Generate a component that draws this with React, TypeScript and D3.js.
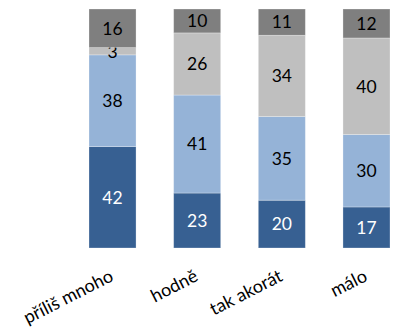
import React from "react";
import * as d3 from "d3";

const categories = ["příliš mnoho", "hodně", "tak akorát", "málo"];
const seriesA = [42, 23, 20, 17];
const seriesB = [38, 41, 35, 30];
const seriesC = [3, 26, 34, 40];
const seriesD = [16, 10, 11, 12];
const colors = ["#376092", "#95B3D7", "#BFBFBF", "#7F7F7F"];
const textColors = ["#ffffff", "#000000", "#000000", "#000000"];

export default function App() {
  const W = 401, H = 327;
  const series = [seriesA, seriesB, seriesC, seriesD];
  const rows = categories.map((c, i) => {
    const o: any = { cat: c };
    series.forEach((s, k) => (o["s" + k] = s[i]));
    return o;
  });
  const keys = ["s0", "s1", "s2", "s3"];
  const stacked = d3.stack().keys(keys).offset(d3.stackOffsetExpand)(rows);
  const xs = d3.scaleBand().domain(categories).range([89, 390]).paddingInner(0.8 / 1.8).paddingOuter(0);
  const y = d3.scaleLinear().domain([0, 1]).range([248, 9]);
  const font = "Lato, 'Open Sans', sans-serif";
  return (
    <svg width={W} height={H} style={{ position: "absolute", left: 0, top: 0 }} fontFamily={font}>
      <rect width={W} height={H} fill="#fff" />
      {stacked.map((layer, k) => (
        <g key={k}>
          {layer.map((d, i) => {
            const cat = categories[i];
            const x0 = xs(cat)!;
            const bw = xs.bandwidth();
            const y0 = y(d[1]);
            const h = y(d[0]) - y(d[1]);
            return (
              <g key={i}>
                <rect x={x0} y={y0} width={bw} height={h} fill={colors[k]} stroke="#ffffff" strokeOpacity={0.35} strokeWidth={0.8} />
                <text x={x0 + bw / 2} y={y0 + h / 2} dy="0.36em" textAnchor="middle" fontSize={17.5} fill={textColors[k]}>
                  {series[k][i]}
                </text>
              </g>
            );
          })}
        </g>
      ))}
      {categories.map((c) => {
        const cx = xs(c)! + xs.bandwidth() / 2;
        return (
          <text key={c} transform={`translate(${cx + 2},${280}) rotate(-27)`} textAnchor="end" fontSize={18} fill="#000">
            {c}
          </text>
        );
      })}
    </svg>
  );
}
